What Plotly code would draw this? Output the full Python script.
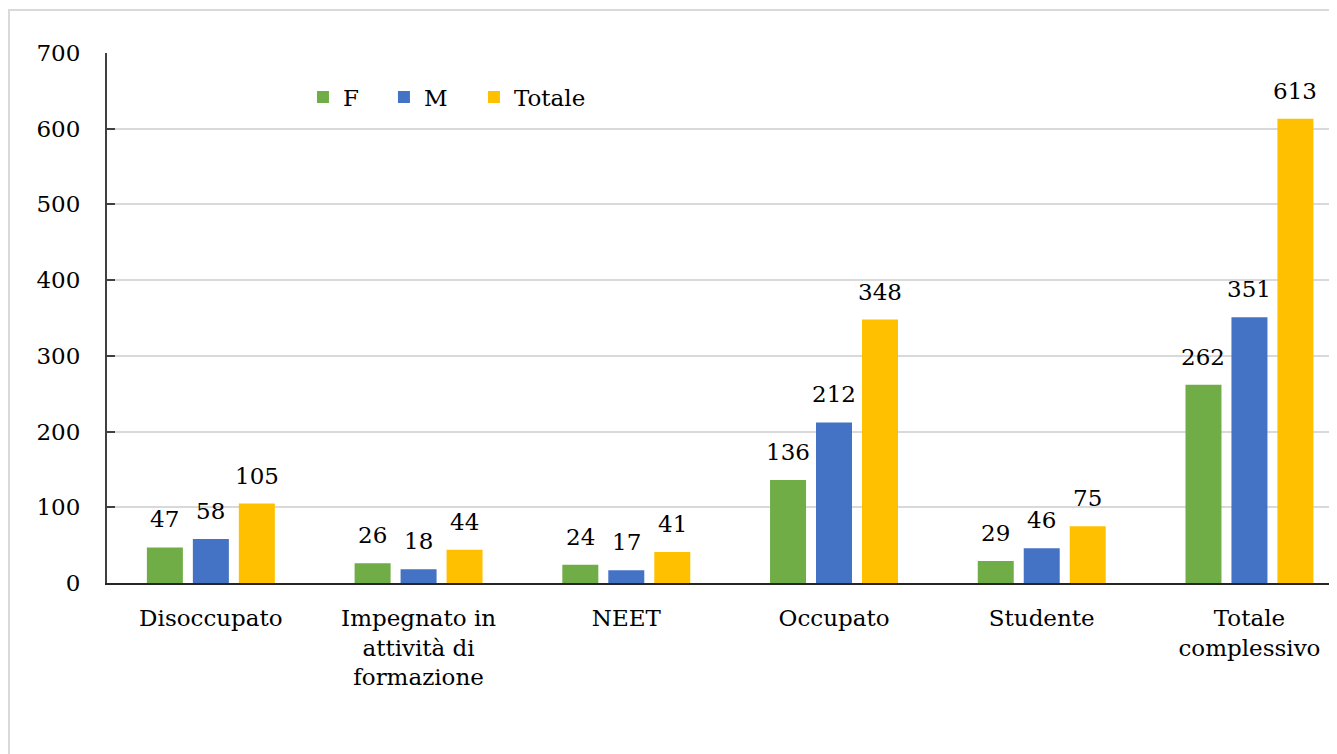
import plotly.graph_objects as go

categories = ["Disoccupato", "Impegnato in<br>attività di<br>formazione", "NEET",
              "Occupato", "Studente", "Totale<br>complessivo"]
val_f = [47, 26, 24, 136, 29, 262]
val_m = [58, 18, 17, 212, 46, 351]
val_tot = [105, 44, 41, 348, 75, 613]
y_ticks = [0, 100, 200, 300, 400, 500, 600, 700]

FONT = "DejaVu Serif"
series = [("F", val_f, "#70AD47"), ("M", val_m, "#4472C4"), ("Totale", val_tot, "#FFC000")]
offsets = [-46, 0, 46]
legends = ["legend", "legend2", "legend3"]

fig = go.Figure()
for (name, vals, col), dx, lg in zip(series, offsets, legends):
    fig.add_trace(go.Bar(
        x=categories, y=vals, name=name, legend=lg, showlegend=True,
        marker=dict(color=col, line=dict(width=0)),
    ))
    # value labels above bars
    for cat, v in zip(categories, vals):
        fig.add_annotation(x=cat, y=v, text=str(v), showarrow=False,
                           xshift=dx, yshift=13, yanchor="bottom",
                           font=dict(family=FONT, size=23, color="#000000"))

# light frame around the chart area (as in the original export)
fig.add_shape(type="rect", xref="paper", yref="paper",
              x0=-0.0792, x1=1.05, y0=-0.4, y1=1.0811,
              line=dict(color="#d9d9d9", width=2), layer="below")

leg = dict(orientation="h", y=0.917, yanchor="middle", xanchor="left",
           font=dict(family=FONT, size=23, color="#000000"), bgcolor="rgba(0,0,0,0)")
fig.update_layout(
    width=1337, height=754,
    margin=dict(l=99, r=0, t=45, b=179),
    paper_bgcolor="white", plot_bgcolor="white",
    barmode="group", bargap=0.336, bargroupgap=0.217,
    font=dict(family=FONT, size=22, color="#000000"),
    showlegend=True,
    legend=dict(leg, x=0.1583),
    legend2=dict(leg, x=0.2237),
    legend3=dict(leg, x=0.2964),
)
fig.update_xaxes(
    range=[-0.5, 5.46], showline=True, linecolor="#262626", linewidth=2,
    ticks="", ticklabelstandoff=13, tickfont=dict(family=FONT, size=23),
)
fig.update_yaxes(
    range=[0, 700], tickvals=y_ticks, showgrid=True, gridcolor="#d9d9d9", gridwidth=1.5,
    showline=True, linecolor="#404040", linewidth=2, ticks="inside", ticklen=8,
    tickcolor="#404040", tickwidth=2, ticklabelstandoff=20, zeroline=False,
    tickfont=dict(family=FONT, size=23),
)

fig.write_html("out.html")
